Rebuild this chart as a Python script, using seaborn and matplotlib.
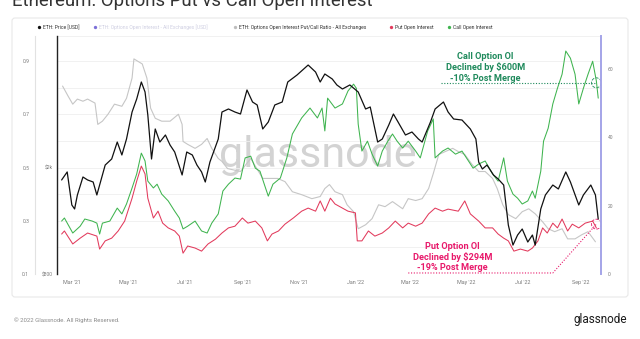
import matplotlib
matplotlib.use("Agg")
import matplotlib.pyplot as plt
import matplotlib.dates as mdates
from matplotlib.patches import FancyBboxPatch, Ellipse
from matplotlib.ticker import NullLocator
import seaborn as sns
import pandas as pd

sns.set_theme(style="white")
plt.rcParams["font.family"] = ["Roboto", "DejaVu Sans"]

# ---------------- data ----------------
price_dates = [
    "2021-02-18", "2021-02-24", "2021-03-01", "2021-03-04", "2021-03-07", "2021-03-13", "2021-03-18",
    "2021-03-24", "2021-03-28", "2021-03-31", "2021-04-06", "2021-04-13", "2021-04-19", "2021-04-24",
    "2021-04-29", "2021-05-05", "2021-05-10", "2021-05-15", "2021-05-19", "2021-05-22", "2021-05-26",
    "2021-05-30", "2021-06-04", "2021-06-10", "2021-06-15", "2021-06-20", "2021-06-28", "2021-07-03",
    "2021-07-09", "2021-07-14", "2021-07-19", "2021-07-23", "2021-07-28", "2021-08-06", "2021-08-10",
    "2021-08-17", "2021-08-24", "2021-08-30", "2021-09-06", "2021-09-12", "2021-09-17", "2021-09-23",
    "2021-09-29", "2021-10-06", "2021-10-14", "2021-10-20", "2021-10-30", "2021-11-11", "2021-11-19",
    "2021-11-24", "2021-11-29", "2021-12-07", "2021-12-12", "2021-12-18", "2021-12-26", "2022-01-04",
    "2022-01-12", "2022-01-17", "2022-01-25", "2022-01-30", "2022-02-06", "2022-02-11", "2022-02-16",
    "2022-02-24", "2022-03-03", "2022-03-10", "2022-03-14", "2022-03-23", "2022-03-28", "2022-04-06",
    "2022-04-11", "2022-04-17", "2022-04-26", "2022-05-05", "2022-05-11", "2022-05-14", "2022-05-18",
    "2022-05-23", "2022-05-30", "2022-06-04", "2022-06-10", "2022-06-15", "2022-06-20", "2022-06-25",
    "2022-06-30", "2022-07-06", "2022-07-11", "2022-07-14", "2022-07-20", "2022-07-25", "2022-08-02",
    "2022-08-08", "2022-08-16", "2022-08-21", "2022-08-30", "2022-09-04", "2022-09-12", "2022-09-17",
    "2022-09-20",
]
price_usd = [
    1790, 1917, 1445, 1396, 1574, 1836, 1790, 1759, 1574, 1714, 2034, 2142, 2477, 2217,
    2542, 3203, 3581, 4142, 3803, 3122, 2142, 2770, 2477, 2631, 2414, 2274, 1868, 2274,
    2217, 2034, 1917, 1759, 2087, 2542, 3203, 3287, 3203, 3149, 3868, 3490, 3402, 2770,
    2941, 3402, 3490, 4142, 4398, 4790, 4512, 4142, 4436, 4250, 4038, 3901, 4038, 3803,
    3287, 3344, 2477, 2542, 2866, 3149, 2941, 2631, 2699, 2542, 2477, 2941, 3287, 3490,
    3203, 3017, 2991, 2770, 2542, 2087, 1966, 2034, 1868, 1805, 1714, 1217, 1025, 1117,
    1176, 1052, 1117, 1025, 1396, 1574, 1714, 1657, 1917, 1759, 1445, 1574, 1714, 1574,
    1281,
]

ratio_dates = [
    "2021-02-19", "2021-02-25", "2021-03-02", "2021-03-07", "2021-03-13", "2021-03-18", "2021-03-26",
    "2021-03-29", "2021-04-03", "2021-04-09", "2021-04-16", "2021-04-24", "2021-04-29", "2021-05-05",
    "2021-05-07", "2021-05-16", "2021-05-21", "2021-05-25", "2021-05-30", "2021-06-06", "2021-06-15",
    "2021-06-24", "2021-06-28", "2021-06-29", "2021-07-04", "2021-07-12", "2021-07-19", "2021-07-25",
    "2021-07-30", "2021-08-06", "2021-08-10", "2021-08-16", "2021-08-30", "2021-09-10", "2021-09-23",
    "2021-10-09", "2021-10-17", "2021-10-25", "2021-11-04", "2021-11-15", "2021-11-24", "2021-11-29",
    "2021-12-04", "2021-12-10", "2021-12-18", "2021-12-23", "2021-12-30", "2022-01-04", "2022-01-12",
    "2022-01-19", "2022-01-26", "2022-02-02", "2022-02-10", "2022-02-21", "2022-02-27", "2022-03-07",
    "2022-03-14", "2022-03-21", "2022-03-26", "2022-04-01", "2022-04-08", "2022-04-16", "2022-04-22",
    "2022-04-29", "2022-05-07", "2022-05-14", "2022-05-21", "2022-05-29", "2022-06-03", "2022-06-09",
    "2022-06-15", "2022-06-23", "2022-06-30", "2022-07-07", "2022-07-14", "2022-07-22", "2022-07-28",
    "2022-08-04", "2022-08-12", "2022-08-18", "2022-08-26", "2022-09-02", "2022-09-09", "2022-09-17",
]
put_call_ratio = [
    0.806, 0.768, 0.738, 0.757, 0.749, 0.757, 0.742,
    0.662, 0.674, 0.700, 0.738, 0.730, 0.760, 0.836,
    0.908, 0.889, 0.836, 0.723, 0.685, 0.674, 0.674,
    0.700, 0.662, 0.598, 0.587, 0.572, 0.587, 0.609,
    0.572, 0.534, 0.523, 0.496, 0.485, 0.534, 0.459,
    0.459, 0.447, 0.409, 0.398, 0.383, 0.391, 0.421,
    0.436, 0.409, 0.398, 0.360, 0.334, 0.270, 0.285,
    0.308, 0.360, 0.353, 0.372, 0.345, 0.383, 0.376,
    0.383, 0.421, 0.477, 0.549, 0.560, 0.572, 0.560,
    0.549, 0.511, 0.485, 0.485, 0.459, 0.421, 0.360,
    0.323, 0.308, 0.334, 0.345, 0.326, 0.296, 0.270,
    0.259, 0.270, 0.232, 0.232, 0.247, 0.259, 0.221,
]

call_dates = [
    "2021-02-18", "2021-02-21", "2021-03-02", "2021-03-10", "2021-03-15", "2021-03-23", "2021-03-28",
    "2021-03-31", "2021-04-03", "2021-04-11", "2021-04-19", "2021-04-24", "2021-04-29", "2021-05-05",
    "2021-05-10", "2021-05-15", "2021-05-19", "2021-05-22", "2021-05-28", "2021-06-01", "2021-06-06",
    "2021-06-13", "2021-06-20", "2021-06-25", "2021-06-29", "2021-07-04", "2021-07-12", "2021-07-19",
    "2021-07-25", "2021-07-30", "2021-08-06", "2021-08-11", "2021-08-17", "2021-08-24", "2021-08-30",
    "2021-09-04", "2021-09-10", "2021-09-15", "2021-09-20", "2021-09-26", "2021-09-29", "2021-10-04",
    "2021-10-12", "2021-10-19", "2021-10-25", "2021-11-04", "2021-11-13", "2021-11-21", "2021-11-26",
    "2021-11-29", "2021-12-02", "2021-12-10", "2021-12-18", "2021-12-24", "2021-12-30", "2022-01-02",
    "2022-01-04", "2022-01-08", "2022-01-14", "2022-01-19", "2022-01-25", "2022-01-30", "2022-02-05",
    "2022-02-10", "2022-02-15", "2022-02-21", "2022-02-27", "2022-03-07", "2022-03-12", "2022-03-20",
    "2022-03-26", "2022-03-28", "2022-04-05", "2022-04-11", "2022-04-19", "2022-04-26", "2022-05-03",
    "2022-05-08", "2022-05-14", "2022-05-21", "2022-05-29", "2022-06-04", "2022-06-10", "2022-06-14",
    "2022-06-20", "2022-06-25", "2022-06-30", "2022-07-06", "2022-07-11", "2022-07-14", "2022-07-20",
    "2022-07-23", "2022-07-28", "2022-08-02", "2022-08-07", "2022-08-12", "2022-08-16", "2022-08-21",
    "2022-08-26", "2022-08-30", "2022-09-04", "2022-09-09", "2022-09-14", "2022-09-18", "2022-09-20",
]
call_oi = [
    15.5, 16.4, 12.0, 14.0, 16.1, 15.5, 14.9,
    11.7, 14.9, 15.5, 19.3, 17.6, 20.5, 25.2,
    29.3, 35.4, 33.1, 27.2, 25.2, 26.3, 23.4,
    21.4, 18.4, 16.4, 13.2, 14.0, 15.5, 12.6,
    12.0, 14.9, 17.6, 24.3, 26.3, 28.1, 27.8,
    34.0, 34.5, 31.0, 30.1, 25.2, 22.8, 26.3,
    28.1, 34.0, 41.0, 45.7, 48.6, 45.7, 48.6,
    41.9, 51.5, 48.6, 49.8, 53.6, 55.6, 54.4,
    43.9, 36.0, 38.9, 35.1, 31.6, 36.0, 38.9,
    41.0, 38.9, 36.9, 38.9, 36.0, 34.0, 41.9,
    45.4, 34.0, 36.0, 36.9, 35.1, 36.0, 33.1,
    31.0, 32.2, 33.1, 29.3, 27.2, 34.0, 27.2,
    23.4, 22.2, 20.5, 21.4, 24.3, 22.2, 30.1,
    38.9, 42.7, 49.8, 54.4, 58.5, 65.3, 63.2,
    58.5, 49.8, 54.4, 58.5, 62.3, 56.5, 51.5,
]

put_dates = [
    "2021-02-18", "2021-02-21", "2021-03-02", "2021-03-10", "2021-03-18", "2021-03-28", "2021-03-31",
    "2021-04-06", "2021-04-13", "2021-04-20", "2021-04-27", "2021-05-05", "2021-05-10", "2021-05-15",
    "2021-05-19", "2021-05-22", "2021-05-28", "2021-06-02", "2021-06-07", "2021-06-13", "2021-06-20",
    "2021-06-25", "2021-06-29", "2021-07-04", "2021-07-12", "2021-07-19", "2021-07-26", "2021-08-03",
    "2021-08-10", "2021-08-17", "2021-08-24", "2021-09-01", "2021-09-07", "2021-09-15", "2021-09-22",
    "2021-09-28", "2021-10-03", "2021-10-10", "2021-10-17", "2021-10-26", "2021-11-04", "2021-11-11",
    "2021-11-19", "2021-11-24", "2021-11-29", "2021-12-05", "2021-12-10", "2021-12-18", "2021-12-24",
    "2022-01-01", "2022-01-03", "2022-01-08", "2022-01-15", "2022-01-22", "2022-01-30", "2022-02-06",
    "2022-02-13", "2022-02-21", "2022-02-27", "2022-03-07", "2022-03-14", "2022-03-21", "2022-03-28",
    "2022-04-05", "2022-04-11", "2022-04-22", "2022-04-29", "2022-05-05", "2022-05-14", "2022-05-21",
    "2022-05-29", "2022-06-04", "2022-06-10", "2022-06-15", "2022-06-21", "2022-06-28", "2022-07-06",
    "2022-07-11", "2022-07-17", "2022-07-22", "2022-07-27", "2022-08-02", "2022-08-07", "2022-08-12",
    "2022-08-18", "2022-08-23", "2022-08-30", "2022-09-06", "2022-09-14", "2022-09-18",
]
put_oi = [
    11.7, 12.6, 8.8, 10.5, 12.0, 11.1, 7.3,
    9.7, 10.5, 12.6, 15.5, 22.2, 27.2, 31.6,
    29.3, 22.2, 16.4, 18.4, 14.9, 13.5, 12.6,
    11.1, 6.1, 8.2, 7.6, 6.7, 8.8, 10.2,
    12.0, 13.5, 14.0, 16.4, 14.9, 15.5, 13.5,
    9.7, 11.7, 12.6, 14.6, 16.4, 18.4, 19.3,
    18.4, 21.4, 18.4, 22.2, 20.5, 19.3, 18.4,
    17.9, 9.7, 9.7, 12.6, 11.1, 12.0, 13.5,
    15.5, 13.5, 14.9, 14.0, 14.9, 17.6, 19.3,
    18.4, 19.0, 18.4, 21.4, 17.6, 15.5, 13.5,
    13.5, 11.7, 10.5, 9.7, 6.7, 7.3, 6.7,
    7.6, 9.7, 13.5, 12.0, 14.9, 13.5, 16.1,
    12.6, 14.6, 13.5, 14.9, 15.5, 13.5,
]

month_ticks = ["2021-03-01", "2021-05-01", "2021-07-01", "2021-09-01", "2021-11-01", "2022-01-01",
               "2022-03-01", "2022-05-01", "2022-07-01", "2022-09-01"]
month_labels = ["Mar '21", "May '21", "Jul '21", "Sep '21", "Nov '21", "Jan '22",
                "Mar '22", "May '22", "Jul '22", "Sep '22"]

ratio_ticks = [0.1, 0.3, 0.5, 0.7, 0.9]
price_ticks = [800, 2000]
price_labels = ["$800", "$2k"]
oi_ticks = [0, 20, 40, 60]

legend_entries = [
    "ETH: Price [USD]",
    "ETH: Options Open Interest - All Exchanges [USD]",
    "ETH: Options Open Interest Put/Call Ratio - All Exchanges",
    "Put Open Interest",
    "Call Open Interest",
]

merge_date = "2022-09-18"
call_at_merge = 56.0
put_at_merge = 14.6

# ---------------- colours ----------------
C_PRICE = "#111111"
C_RATIO = "#c6c6c6"
C_PUT = "#e23a5c"
C_CALL = "#3fb44f"
C_CALL_TXT = "#1f8a5c"
C_PUT_TXT = "#e8196b"
C_AXIS_OI = "#a4a4e8"
C_TICK = "#7a7a7a"

W, H = 640, 339
fig = plt.figure(figsize=(W / 100, H / 100), dpi=100)
fig.patch.set_facecolor("white")

# background layer in pixel coordinates (card, legend, footer, watermark)
bg = fig.add_axes([0, 0, 1, 1], zorder=0)
bg.set_xlim(0, W)
bg.set_ylim(H, 0)
bg.axis("off")

bg.add_patch(FancyBboxPatch((12, 18), 616, 279, boxstyle="round,pad=0,rounding_size=3",
                            fc="white", ec="#e8e8e8", lw=0.8))

bg.text(12, 6, "Ethereum: Options Put vs Call Open Interest", fontsize=13.4, color="#333333",
        ha="left", va="baseline")

legend_x = [39, 95, 235, 391, 449]
dot_colors = [C_PRICE, "#7c70d8", "#bdbdbd", C_PUT, C_CALL]
text_colors = ["#333333", "#cfcfe2", "#333333", "#333333", "#333333"]
for lx, lab, dc, tc in zip(legend_x, legend_entries, dot_colors, text_colors):
    bg.plot([lx], [27], marker="o", ms=2.4, color=dc, mec="none")
    bg.text(lx + 4, 27.3, lab, fontsize=3.6, color=tc, ha="left", va="center")

bg.text(318, 156, "glassnode", fontsize=31, color="#d3d3d3", ha="center", va="center")

bg.text(14, 320, "\u00a9 2022 Glassnode. All Rights Reserved.", fontsize=4.3, color="#8a8a8a",
        ha="left", va="center")
bg.text(627, 320, "glassnode", fontsize=8.5, color="#1a1a1a", ha="right", va="center")

# ---------------- chart axes ----------------
rect = [57 / W, 1 - 274 / H, 544 / W, 238 / H]
ax_r = fig.add_axes(rect, zorder=1)
ax_r.set_facecolor("none")
ax_oi = ax_r.twinx()
ax_oi.set_zorder(2)
ax_p = ax_r.twinx()
ax_p.set_zorder(3)

x_lo, x_hi = pd.Timestamp("2021-02-13"), pd.Timestamp("2022-09-23")

# put/call ratio (left, outer axis)
sns.lineplot(x=pd.to_datetime(ratio_dates), y=put_call_ratio, ax=ax_r, color=C_RATIO,
             lw=0.8, estimator=None)
# open interest (right axis)
sns.lineplot(x=pd.to_datetime(call_dates), y=call_oi, ax=ax_oi, color=C_CALL, lw=0.75,
             estimator=None)
sns.lineplot(x=pd.to_datetime(put_dates), y=put_oi, ax=ax_oi, color=C_PUT, lw=0.75,
             estimator=None)
# price (left, log axis)
sns.lineplot(x=pd.to_datetime(price_dates), y=price_usd, ax=ax_p, color=C_PRICE, lw=0.9,
             estimator=None)

for a in (ax_r, ax_oi, ax_p):
    a.set_xlim(x_lo, x_hi)
    a.set_xlabel("")
    a.set_ylabel("")

# ratio axis
ax_r.set_ylim(0.1, 0.994)
ax_r.set_yticks(ratio_ticks)
ax_r.set_yticklabels([f"{t:.1f}" for t in ratio_ticks])
ax_r.set_yticks([0.2, 0.4, 0.6, 0.8], minor=True)
ax_r.yaxis.tick_left()
ax_r.spines["left"].set_position(("outward", 15.8))
ax_r.spines["left"].set_color("#e2e2e2")
ax_r.spines["left"].set_linewidth(0.8)
ax_r.spines["top"].set_color("#efefef")
ax_r.spines["top"].set_linewidth(0.6)
for s in ("right", "bottom"):
    ax_r.spines[s].set_visible(False)
ax_r.grid(True, axis="y", which="both", color="#efefef", lw=0.6)
ax_r.tick_params(axis="y", which="both", length=0, labelsize=3.6, labelcolor=C_TICK, pad=4.2)
ax_r.set_xticks(pd.to_datetime(month_ticks))
ax_r.set_xticklabels(month_labels)
ax_r.tick_params(axis="x", length=0, labelsize=3.9, labelcolor=C_TICK, pad=4)

# open-interest axis
ax_oi.set_ylim(0, 69.7)
ax_oi.set_yticks(oi_ticks)
ax_oi.set_yticklabels([str(t) for t in oi_ticks])
ax_oi.tick_params(axis="y", length=0, labelsize=3.6, labelcolor=C_TICK, pad=5)
for s in ("left", "top", "bottom"):
    ax_oi.spines[s].set_visible(False)
ax_oi.spines["right"].set_color(C_AXIS_OI)
ax_oi.spines["right"].set_linewidth(1.4)

# price axis
ax_p.set_yscale("log")
ax_p.set_ylim(800, 6142)
ax_p.set_yticks(price_ticks)
ax_p.set_yticklabels(price_labels)
ax_p.yaxis.set_minor_locator(NullLocator())
ax_p.yaxis.tick_left()
ax_p.tick_params(axis="y", length=0, labelsize=3.6, labelcolor=C_TICK, pad=3.2)
for s in ("right", "top", "bottom"):
    ax_p.spines[s].set_visible(False)
ax_p.spines["left"].set_visible(True)
ax_p.spines["left"].set_color("#222222")
ax_p.spines["left"].set_linewidth(1.0)

# ---------------- post-merge call-outs ----------------
md = mdates.date2num(pd.Timestamp(merge_date))
ax_oi.plot([mdates.date2num(pd.Timestamp("2022-04-03")), md], [call_at_merge, call_at_merge],
           ls=(0, (1, 1.5)), color=C_CALL_TXT, lw=0.8)
ax_oi.add_patch(Ellipse((md, call_at_merge), width=10.5, height=2.9, fill=False,
                        ls="--", lw=0.6, ec=C_CALL_TXT))
ax_oi.plot([mdates.date2num(pd.Timestamp("2022-02-27")),
            mdates.date2num(pd.Timestamp("2022-08-02")), md],
           [0.3, 0.3, put_at_merge], ls=(0, (1, 1.5)), color=C_PUT_TXT, lw=0.8, clip_on=False)
ax_oi.add_patch(Ellipse((md, put_at_merge), width=10.5, height=2.9, fill=False,
                        ls="--", lw=0.6, ec=C_PUT_TXT))

ax_p.text(0.788, 0.868, "Call Option OI\nDeclined by $600M\n-10% Post Merge",
          transform=ax_p.transAxes, ha="center", va="center", fontsize=6.6,
          fontweight="bold", color=C_CALL_TXT, linespacing=1.15)
ax_p.text(0.727, 0.072, "Put Option OI\nDeclined by $294M\n-19% Post Merge",
          transform=ax_p.transAxes, ha="center", va="center", fontsize=6.6,
          fontweight="bold", color=C_PUT_TXT, linespacing=1.15)

fig.savefig("out.png", dpi=100, facecolor="white")
